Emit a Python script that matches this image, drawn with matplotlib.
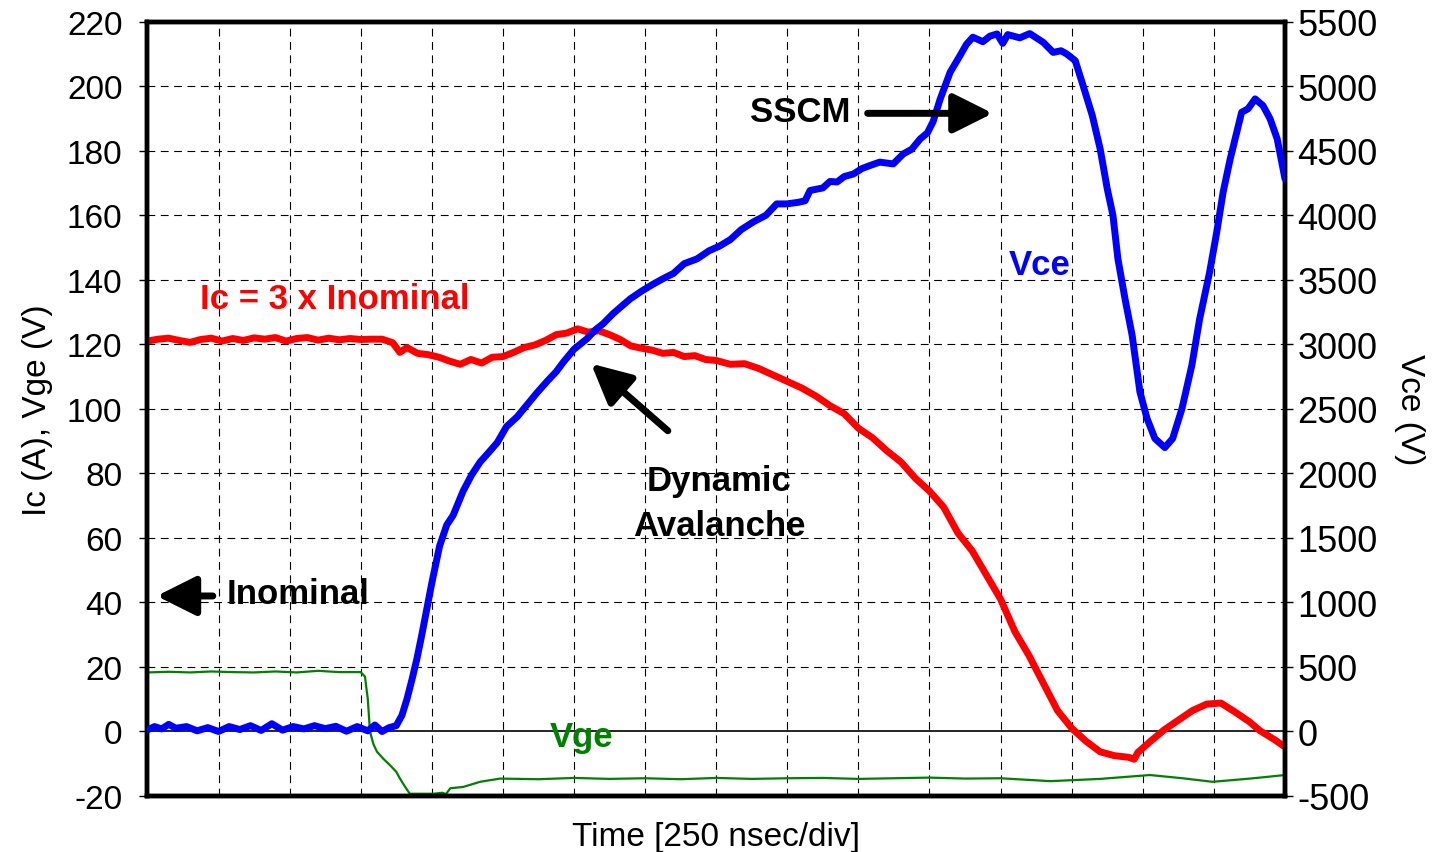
import matplotlib
matplotlib.use("Agg")
from matplotlib import pyplot as plt

plt.rcParams['font.family'] = ['Liberation Sans', 'DejaVu Sans']
plt.rcParams['axes.unicode_minus'] = False

# time axis in divisions (250 nsec/div)
t_ic = [0, 0.15, 0.3, 0.45, 0.6, 0.75, 0.9, 1.05, 1.2, 1.35, 1.5, 1.65, 1.8, 1.95,
        2.1, 2.25, 2.4, 2.55, 2.7, 2.85, 3.0, 3.15, 3.3, 3.45, 3.55, 3.65, 3.8, 3.95,
        4.1, 4.25, 4.4, 4.55, 4.7, 4.85, 5.0, 5.15, 5.3, 5.45, 5.6, 5.75, 5.9, 6.05,
        6.2, 6.35, 6.5, 6.65, 6.8, 6.95, 7.1, 7.25, 7.4, 7.55, 7.7, 7.85, 8.0, 8.2,
        8.4, 8.6, 8.8, 9.0, 9.2, 9.4, 9.6, 9.8, 10.0, 10.2, 10.4, 10.6, 10.8, 11.0,
        11.2, 11.4, 11.6, 11.8, 12.0, 12.2, 12.4, 12.6, 12.8, 13.0, 13.2, 13.4, 13.6,
        13.8, 13.88, 13.93, 14.1, 14.3, 14.5, 14.7, 14.9, 15.1, 15.3, 15.5, 15.65,
        15.85, 16.0]
ic = [121.0, 121.6, 121.9, 121.2, 120.6, 121.5, 121.9, 121.0, 121.8, 121.2, 122.0,
      121.6, 122.1, 121.0, 121.8, 122.1, 121.3, 121.9, 121.4, 121.8, 121.5, 121.6,
      121.6, 120.5, 117.5, 119.0, 117.2, 116.8, 116.0, 114.8, 113.8, 115.3, 114.2,
      116.0, 116.2, 117.5, 119.0, 119.8, 121.2, 123.0, 123.5, 124.8, 123.8, 124.2,
      123.0, 121.5, 119.5, 118.8, 118.2, 117.2, 117.5, 116.2, 116.5, 115.3, 115.0,
      113.8, 114.0, 112.5, 110.5, 108.5, 106.5, 104.0, 101.0, 98.5, 94.0, 91.0,
      87.0, 83.5, 78.5, 74.5, 69.5, 61.5, 56.0, 48.5, 41.0, 31.0, 23.5, 15.0, 6.5,
      1.0, -3.0, -6.3, -7.5, -8.0, -8.6, -6.5, -3.2, 0.5, 3.5, 6.5, 8.5, 8.8, 6.0,
      3.0, 0.2, -2.5, -4.8]

t_vce = [0, 0.1, 0.2, 0.3, 0.4, 0.55, 0.7, 0.85, 1.0, 1.15, 1.3, 1.45, 1.6, 1.75,
         1.9, 2.05, 2.2, 2.35, 2.5, 2.65, 2.8, 2.95, 3.1, 3.2, 3.3, 3.4, 3.5, 3.58,
         3.65, 3.72, 3.79, 3.86, 3.93, 4.0, 4.11, 4.21, 4.3, 4.44, 4.56, 4.68, 4.8,
         4.92, 5.05, 5.2, 5.35, 5.48, 5.62, 5.75, 5.85, 6.0, 6.18, 6.3, 6.41, 6.55,
         6.79, 6.95, 7.1, 7.25, 7.4, 7.55, 7.73, 7.9, 8.05, 8.2, 8.35, 8.52, 8.7,
         8.85, 8.99, 9.15, 9.25, 9.32, 9.5, 9.6, 9.7, 9.8, 9.93, 10.05, 10.16, 10.3,
         10.49, 10.63, 10.75, 10.87, 10.97, 11.05, 11.15, 11.29, 11.43, 11.52, 11.61,
         11.75, 11.85, 11.95, 12.03, 12.1, 12.27, 12.41, 12.6, 12.74, 12.85, 12.93,
         13.05, 13.16, 13.29, 13.4, 13.5, 13.58, 13.65, 13.75, 13.85, 13.96, 14.06,
         14.17, 14.31, 14.42, 14.55, 14.69, 14.8, 14.94, 15.04, 15.13, 15.23, 15.32,
         15.39, 15.48, 15.58, 15.69, 15.79, 15.89, 16.0]
vce = [12, 38, 20, 55, 25, 38, 5, 30, 0, 38, 15, 45, 8, 60, 10, 38, 20, 45, 22, 40,
       2, 38, 5, 50, 0, 30, 45, 125, 250, 400, 562, 750, 950, 1150, 1438, 1600,
       1675, 1862, 1988, 2088, 2162, 2238, 2362, 2438, 2538, 2625, 2712, 2788, 2862,
       2962, 3042, 3112, 3160, 3238, 3352, 3412, 3462, 3508, 3550, 3625, 3662, 3725,
       3762, 3812, 3888, 3948, 4000, 4088, 4088, 4100, 4112, 4192, 4212, 4262, 4258,
       4300, 4320, 4362, 4385, 4412, 4398, 4475, 4512, 4592, 4638, 4725, 4900, 5108,
       5238, 5325, 5380, 5345, 5388, 5405, 5332, 5400, 5375, 5408, 5340, 5262, 5275,
       5250, 5198, 5005, 4772, 4515, 4205, 4000, 3662, 3352, 3070, 2630, 2425, 2270,
       2200, 2270, 2500, 2838, 3198, 3560, 3870, 4180, 4438, 4642, 4798, 4825, 4902,
       4850, 4748, 4592, 4282]

t_vge = [0, 0.3, 0.6, 0.9, 1.2, 1.5, 1.8, 2.1, 2.4, 2.7, 3.0, 3.06, 3.1, 3.13, 3.18,
         3.23, 3.32, 3.41, 3.5, 3.55, 3.62, 3.69, 4.02, 4.15, 4.2, 4.26, 4.44, 4.68,
         4.96, 5.5, 6.0, 6.5, 7.0, 7.5, 8.0, 8.5, 9.0, 9.5, 10.0, 10.5, 11.0, 11.5,
         12.0, 12.7, 13.4, 14.1, 14.56, 14.98, 15.51, 16.0]
vge = [18.3, 18.5, 18.3, 18.6, 18.4, 18.3, 18.6, 18.3, 18.8, 18.4, 18.4, 17.0, 10.0,
       0.0, -4.0, -6.3, -8.5, -10.4, -12.5, -14.5, -17.0, -19.3, -19.3, -19.0, -19.4,
       -17.6, -17.2, -15.6, -14.6, -14.8, -14.4, -14.7, -14.5, -14.8, -14.4, -14.7,
       -14.5, -14.4, -14.7, -14.5, -14.3, -14.6, -14.5, -15.4, -14.7, -13.5, -14.5,
       -15.6, -14.6, -13.5]

fig = plt.figure(figsize=(14.42, 8.53), dpi=100)
ax = fig.add_axes([147.4 / 1442, 56 / 853, (1285 - 147.4) / 1442, (797 - 22.7) / 853])
ax2 = ax.twinx()

ax.set_xlim(0, 16)
ax.set_ylim(-20, 220)
ax2.set_ylim(-500, 5500)
ax.set_yticks(range(-20, 221, 20))
ax2.set_yticks(range(-500, 5501, 500))
ax.set_xticks([])

dash = (0, (7, 5))
for k in range(1, 16):
  ax.axvline(k, color='black', lw=0.8, linestyle=dash, zorder=1)
for v in range(-20, 221, 20):
  if v != 0:
    ax.axhline(v, color='black', lw=0.8, linestyle=dash, zorder=1)
ax.axhline(0, color='black', lw=1.2, zorder=1)

ax.plot(t_vge, vge, color='#008000', lw=1.6, zorder=2)
ax.plot(t_ic, ic, color='#ff0000', lw=5, zorder=3, solid_capstyle='round', solid_joinstyle='round')
ax2.plot(t_vce, vce, color='#0000ff', lw=5, zorder=3, solid_capstyle='round', solid_joinstyle='round')

for a in (ax, ax2):
  for s in a.spines.values():
    s.set_linewidth(3.2)
ax.tick_params(axis='y', direction='out', length=6, width=1, labelsize=24, pad=12)
ax2.tick_params(axis='y', direction='out', length=6, width=1, labelsize=26, pad=3)

ax.set_ylabel('Ic (A), Vge (V)', fontsize=24, labelpad=10)
ax2.set_ylabel('Vce (V)', fontsize=24, rotation=270, labelpad=34)
ax.set_xlabel('Time [250 nsec/div]', fontsize=24, labelpad=18)

bold = dict(fontsize=25, fontweight='bold', ha='center', va='baseline')
ax.text(2.63, 131.2, 'Ic = 3 x Inominal', color='#ff0000', **bold)
ax.text(12.55, 141.9, 'Vce', color='#0000ff', **bold)
ax.text(6.10, -4.5, 'Vge', color='#008000', **bold)
ax.text(9.18, 189.3, 'SSCM', color='black', **bold)
ax.text(2.12, 39.7, 'Inominal', color='black', **bold)
ax.text(8.04, 75.0, 'Dynamic', color='black', **bold)
ax.text(8.04, 60.8, 'Avalanche', color='black', **bold)

arrow = dict(arrowstyle='-|>,head_length=1.2,head_width=0.6', color='black', lw=5,
             shrinkA=0, shrinkB=0, mutation_scale=20)
ax2.annotate('', xy=(11.89, 191.6 * 25), xytext=(10.13, 191.6 * 25), arrowprops=arrow)
ax2.annotate('', xy=(0.13, 42.0 * 25), xytext=(0.92, 42.0 * 25), arrowprops=arrow)
ax2.annotate('', xy=(6.24, 114.0 * 25), xytext=(7.32, 93.2 * 25), arrowprops=arrow)

fig.savefig('out.png', dpi=100)
